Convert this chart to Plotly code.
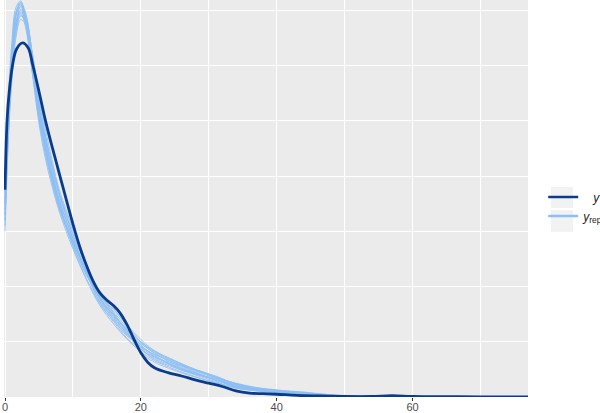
import plotly.graph_objects as go

# densidade observada (y)
y_x = [0, 0.3, 0.6, 1.1, 1.7, 2.6, 3.4, 4.1, 5, 6, 7, 8, 9, 10, 11, 12, 13, 14, 15, 16,
       17, 18, 19, 20, 21, 22, 24, 26, 28, 30, 32, 34, 36, 38, 40, 43, 46, 50, 54, 57, 60, 65, 70, 77]
y_dens = [0.0375, 0.050, 0.055, 0.060, 0.063, 0.0641, 0.0632, 0.060, 0.0553, 0.0498, 0.0450, 0.0404, 0.0358,
          0.0313, 0.0272, 0.0238, 0.0209, 0.0188, 0.0175, 0.0165, 0.0151, 0.0130, 0.0104, 0.0080, 0.0063,
          0.0053, 0.0044, 0.0038, 0.0031, 0.0025, 0.0019, 0.0011, 0.0007, 0.0006, 0.0005, 0.0003, 0.0002,
          0.0001, 0.0001, 0.00025, 0.0001, 0.00005, 0.00003, 0.00002]

# densidades replicadas (y_rep), mesma grade de x
rep_x = [0, 0.5, 1, 1.6, 2.3, 3, 4, 5, 6, 7, 8, 10, 12, 14, 16, 18, 20, 22, 25, 28, 31, 34, 37, 40, 44, 48, 55, 77]
rep01 = [0.034, 0.050, 0.060, 0.0675, 0.0700, 0.0680, 0.0605, 0.0522, 0.0458, 0.0402, 0.0356, 0.0286, 0.0226, 0.0178,
         0.0146, 0.0116, 0.0090, 0.0073, 0.0057, 0.0043, 0.0031, 0.0018, 0.0013, 0.0010, 0.0006, 0.0003, 0.0001, 0.00002]
rep02 = [0.036, 0.054, 0.064, 0.0705, 0.0717, 0.0685, 0.0588, 0.0495, 0.0428, 0.0378, 0.0335, 0.0268, 0.0212, 0.0165,
         0.0132, 0.0104, 0.0082, 0.0066, 0.0050, 0.0037, 0.0026, 0.0016, 0.0011, 0.0008, 0.0004, 0.0002, 0.0001, 0.00002]
rep03 = [0.032, 0.047, 0.057, 0.0650, 0.0683, 0.0676, 0.0622, 0.0548, 0.0482, 0.0425, 0.0375, 0.0305, 0.0240, 0.0190,
         0.0160, 0.0128, 0.0100, 0.0082, 0.0064, 0.0048, 0.0036, 0.0024, 0.0016, 0.0012, 0.0007, 0.0003, 0.0001, 0.00002]
rep04 = [0.030, 0.047, 0.059, 0.0672, 0.0708, 0.0694, 0.0618, 0.0525, 0.0450, 0.0390, 0.0343, 0.0275, 0.0220, 0.0182,
         0.0158, 0.0130, 0.0104, 0.0084, 0.0066, 0.0050, 0.0038, 0.0024, 0.0017, 0.0013, 0.0007, 0.0003, 0.0001, 0.00002]
rep05 = [0.037, 0.052, 0.061, 0.0680, 0.0695, 0.0670, 0.0590, 0.0502, 0.0436, 0.0385, 0.0342, 0.0280, 0.0228, 0.0184,
         0.0150, 0.0118, 0.0080, 0.0063, 0.0048, 0.0036, 0.0026, 0.0017, 0.0011, 0.0007, 0.0004, 0.0002, 0.0001, 0.00002]
rep06 = [0.035, 0.051, 0.062, 0.0692, 0.0712, 0.0686, 0.0600, 0.0512, 0.0448, 0.0396, 0.0350, 0.0272, 0.0214, 0.0168,
         0.0136, 0.0106, 0.0086, 0.0072, 0.0060, 0.0049, 0.0036, 0.0021, 0.0015, 0.0012, 0.0009, 0.0004, 0.0001, 0.00002]
rep07 = [0.032, 0.049, 0.059, 0.0665, 0.0692, 0.0679, 0.0612, 0.0532, 0.0468, 0.0412, 0.0364, 0.0295, 0.0232, 0.0176,
         0.0140, 0.0110, 0.0096, 0.0080, 0.0062, 0.0045, 0.0031, 0.0019, 0.0014, 0.0010, 0.0006, 0.0002, 0.0001, 0.00002]
rep08 = [0.034, 0.051, 0.061, 0.0688, 0.0714, 0.0697, 0.0620, 0.0520, 0.0446, 0.0390, 0.0346, 0.0282, 0.0226, 0.0180,
         0.0148, 0.0120, 0.0094, 0.0074, 0.0056, 0.0042, 0.0034, 0.0025, 0.0017, 0.0011, 0.0006, 0.0003, 0.0001, 0.00002]
rep09 = [0.036, 0.052, 0.060, 0.0668, 0.0697, 0.0683, 0.0606, 0.0526, 0.0466, 0.0414, 0.0368, 0.0292, 0.0224, 0.0170,
         0.0138, 0.0112, 0.0092, 0.0076, 0.0054, 0.0040, 0.0028, 0.0016, 0.0012, 0.0009, 0.0005, 0.0002, 0.0001, 0.00002]
rep10 = [0.033, 0.050, 0.061, 0.0690, 0.0706, 0.0678, 0.0592, 0.0505, 0.0444, 0.0394, 0.0348, 0.0280, 0.0228, 0.0186,
         0.0154, 0.0124, 0.0088, 0.0068, 0.0053, 0.0041, 0.0032, 0.0022, 0.0014, 0.0010, 0.0007, 0.0003, 0.0001, 0.00002]
rep11 = [0.035, 0.053, 0.063, 0.0698, 0.0715, 0.0688, 0.0603, 0.0515, 0.0450, 0.0398, 0.0354, 0.0287, 0.0224, 0.0172,
         0.0142, 0.0114, 0.0091, 0.0077, 0.0062, 0.0047, 0.0034, 0.0020, 0.0013, 0.0010, 0.0006, 0.0003, 0.0001, 0.00002]
rep12 = [0.031, 0.048, 0.058, 0.0658, 0.0689, 0.0684, 0.0625, 0.0540, 0.0472, 0.0418, 0.0370, 0.0300, 0.0236, 0.0184,
         0.0152, 0.0120, 0.0098, 0.0079, 0.0059, 0.0044, 0.0030, 0.0020, 0.0015, 0.0011, 0.0007, 0.0003, 0.0001, 0.00002]
rep13 = [0.033, 0.051, 0.062, 0.0695, 0.0710, 0.0682, 0.0596, 0.0508, 0.0440, 0.0386, 0.0340, 0.0276, 0.0222, 0.0178,
         0.0148, 0.0122, 0.0100, 0.0083, 0.0065, 0.0050, 0.0037, 0.0023, 0.0016, 0.0012, 0.0008, 0.0004, 0.0001, 0.00002]
rep14 = [0.035, 0.050, 0.060, 0.0678, 0.0702, 0.0684, 0.0610, 0.0530, 0.0462, 0.0406, 0.0358, 0.0288, 0.0228, 0.0176,
         0.0144, 0.0114, 0.0087, 0.0070, 0.0055, 0.0042, 0.0031, 0.0019, 0.0013, 0.0009, 0.0005, 0.0002, 0.0001, 0.00002]
reps = [rep01, rep02, rep03, rep04, rep05, rep06, rep07, rep08, rep09, rep10, rep11, rep12, rep13, rep14]

x_ticks = [0, 20, 40, 60]

dark = "#0b3c8c"
light = "#8cbff5"

fig = go.Figure()

for r in reps:
    fig.add_trace(go.Scatter(
        x=rep_x, y=r, mode="lines", line=dict(color=light, width=1.0, shape="spline"),
        opacity=0.85, showlegend=False, hoverinfo="skip"))

fig.add_trace(go.Scatter(
    x=y_x, y=y_dens, mode="lines", line=dict(color=dark, width=2.8, shape="spline"),
    showlegend=False))

# entradas da legenda
fig.add_trace(go.Scatter(x=[None], y=[None], mode="lines", line=dict(color=dark, width=2.5),
                         name="&nbsp;&nbsp;&nbsp;<i>y</i>"))
fig.add_trace(go.Scatter(x=[None], y=[None], mode="lines", line=dict(color=light, width=2.5),
                         name="<i>y</i><sub>rep</sub>"))

# fundo cinza das chaves da legenda
for y0, y1 in [(0.476, 0.529), (0.416, 0.471)]:
    fig.add_shape(type="rect", xref="paper", yref="paper", x0=1.0439, x1=1.086, y0=y0, y1=y1,
                  fillcolor="#f2f2f2", line=dict(width=0), layer="below")

fig.update_layout(
    width=600, height=413,
    margin=dict(l=4, r=72, t=0, b=16, autoexpand=False),
    paper_bgcolor="white", plot_bgcolor="#ebebeb",
    font=dict(family="Liberation Sans, Arial, sans-serif", color="#4d4d4d", size=11),
    legend=dict(x=1.029, y=0.54, xanchor="left", yanchor="top", itemwidth=30,
                font=dict(size=12, color="#1a1a1a"), tracegroupgap=0, bgcolor="rgba(0,0,0,0)"),
    xaxis=dict(range=[-0.15, 77], tickvals=x_ticks, showgrid=True, gridcolor="white", gridwidth=1.4,
               zeroline=False, ticks="outside", ticklen=3, tickcolor="#333333", tickwidth=1,
               ticklabelstandoff=-3,
               minor=dict(dtick=10, tick0=0, showgrid=True, gridcolor="white", gridwidth=0.7),
               showline=False, automargin=False),
    yaxis=dict(range=[0, 0.07186], dtick=0.02, showticklabels=False, showgrid=True, gridcolor="white",
               gridwidth=1.4, zeroline=False, ticks="", automargin=False,
               minor=dict(dtick=0.01, tick0=0, showgrid=True, gridcolor="white", gridwidth=0.7)),
)

fig.write_html("out.html", config={"displayModeBar": False},
               post_script="document.body.style.margin='0';")
